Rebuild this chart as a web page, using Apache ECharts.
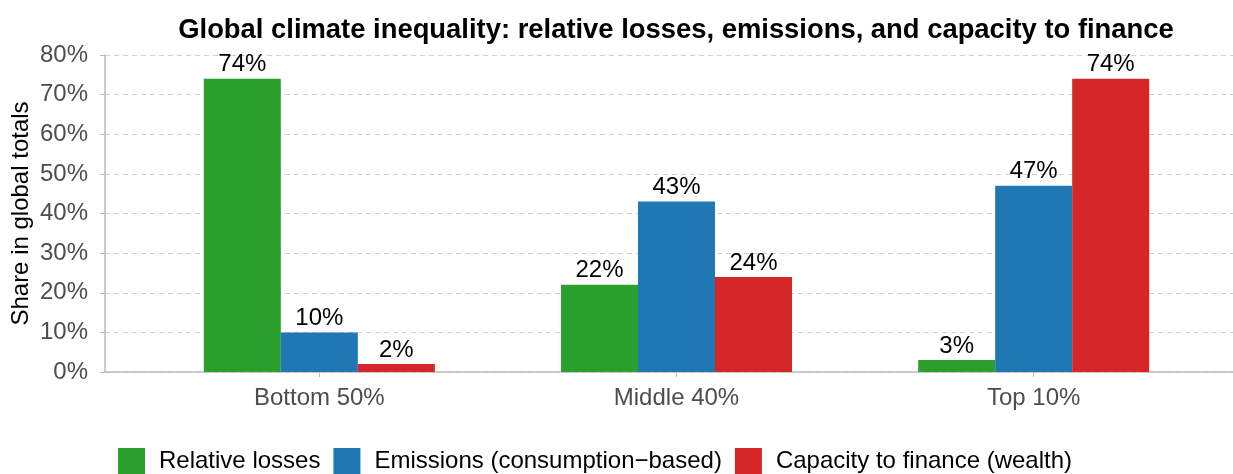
<!DOCTYPE html>
<html>
<head>
<meta charset="utf-8">
<script src="https://cdn.jsdelivr.net/npm/echarts@6/dist/echarts.min.js"></script>
<style>
html,body{margin:0;padding:0;background:#fff}
#chart{width:1233px;height:474px}
</style>
</head>
<body>
<div id="chart"></div>
<script>
// groups on the x axis
var groups = ["Bottom 50%", "Middle 40%", "Top 10%"]
var groupPos = [1, 2, 3]
var seriesNames = ["Relative losses", "Emissions (consumption\u2212based)", "Capacity to finance (wealth)"]
var losses = [74, 22, 3]
var emissions = [10, 43, 47]
var wealth = [2, 24, 74]
var yTicks = [0, 10, 20, 30, 40, 50, 60, 70, 80]
var colors = ["#2ca02c", "#1f77b4", "#d62728"]

var font = "Liberation Sans, Arial, sans-serif"

function pairs(vals){
  var out = []
  for (var i = 0; i < vals.length; i++) out.push([groupPos[i], vals[i]])
  return out
}

function barSeries(name, vals, color){
  return {
    name: name,
    type: "bar",
    data: pairs(vals),
    barWidth: 77,
    barGap: "0%",
    itemStyle: {color: color},
    label: {
      show: true,
      position: "top",
      distance: 2,
      formatter: function(p){ return p.value[1] + "%" },
      color: "#000",
      fontFamily: font,
      fontSize: 24
    }
  }
}

var chart = echarts.init(document.getElementById("chart"), null, {renderer: "canvas"})
chart.setOption({
  animation: false,
  title: {
    text: "Global climate inequality: relative losses, emissions, and capacity to finance",
    left: 671,
    textAlign: "center",
    top: 12,
    textStyle: {fontFamily: font, fontWeight: "bold", fontSize: 27.4, color: "#000"}
  },
  legend: {
    left: 118,
    top: 448,
    padding: 0,
    itemWidth: 27,
    itemHeight: 26,
    itemGap: 13,
    icon: "rect",
    data: seriesNames,
    textStyle: {fontFamily: font, fontSize: 24, color: "#000", padding: [0, 0, 0, 9]}
  },
  grid: {left: 105, width: 1143, top: 55, height: 317, containLabel: false, outerBoundsMode: "none"},
  xAxis: {
    type: "value",
    min: 0.4,
    max: 3.6,
    axisLine: {show: true, onZero: false, lineStyle: {color: "#bdbdbd", width: 1.5}},
    axisTick: {show: true, customValues: groupPos, length: 5, lineStyle: {color: "#bdbdbd"}},
    axisLabel: {
      customValues: groupPos,
      formatter: function(v){ return groups[Math.round(v) - 1] },
      fontFamily: font, fontSize: 24, color: "#4d4d4d", margin: 14
    },
    splitLine: {show: false}
  },
  yAxis: {
    type: "value",
    min: 0,
    max: 80,
    interval: 10,
    name: "Share in global totals",
    nameLocation: "middle",
    nameGap: 72,
    nameMoveOverlap: false,
    nameTextStyle: {fontFamily: font, fontSize: 24, color: "#000"},
    axisLine: {show: true, lineStyle: {color: "#bdbdbd", width: 1.5}},
    axisTick: {show: true, length: 5, lineStyle: {color: "#bdbdbd"}},
    axisLabel: {
      formatter: function(v){ return yTicks.indexOf(v) >= 0 ? v + "%" : "" },
      fontFamily: font, fontSize: 24, color: "#4d4d4d", margin: 17
    },
    splitLine: {show: true, lineStyle: {color: "#d0d0d0", type: [5, 4], width: 1}}
  },
  series: [
    barSeries(seriesNames[0], losses, colors[0]),
    barSeries(seriesNames[1], emissions, colors[1]),
    barSeries(seriesNames[2], wealth, colors[2])
  ]
})
</script>
</body>
</html>
